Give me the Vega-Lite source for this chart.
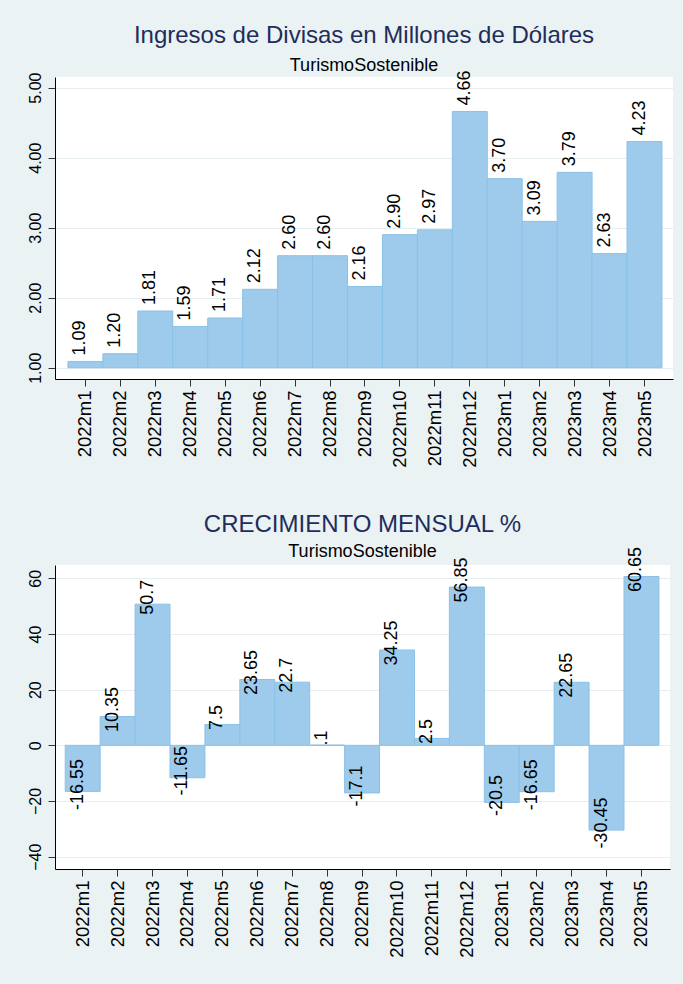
{
  "$schema": "https://vega.github.io/schema/vega-lite/v6.json",
  "background": "#eaf2f3",
  "padding": {"left": 0, "top": 24, "right": 10, "bottom": 30},
  "config": {
    "view": {"stroke": null, "fill": "white"},
    "font": "Liberation Sans",
    "axis": {"labelColor": "#000", "domainColor": "#000", "tickColor": "#333", "titleColor": "#000"}
  },
  "spacing": 44,
  "vconcat": [
    {
      "width": 618,
      "height": 302,
      "title": {
        "text": "Ingresos de Divisas en Millones de Dólares",
        "subtitle": "TurismoSostenible",
        "fontSize": 24,
        "fontWeight": "normal",
        "color": "#1f2d5c",
        "subtitleFontSize": 18,
        "subtitleColor": "#000",
        "subtitlePadding": 9,
        "anchor": "middle",
        "frame": "group",
        "offset": 2,
        "dy": 7
      },
      "data": {
        "values": [
          {"mes": "2022m1", "valor": 1.09},
          {"mes": "2022m2", "valor": 1.20},
          {"mes": "2022m3", "valor": 1.81},
          {"mes": "2022m4", "valor": 1.59},
          {"mes": "2022m5", "valor": 1.71},
          {"mes": "2022m6", "valor": 2.12},
          {"mes": "2022m7", "valor": 2.60},
          {"mes": "2022m8", "valor": 2.60},
          {"mes": "2022m9", "valor": 2.16},
          {"mes": "2022m10", "valor": 2.90},
          {"mes": "2022m11", "valor": 2.97},
          {"mes": "2022m12", "valor": 4.66},
          {"mes": "2023m1", "valor": 3.70},
          {"mes": "2023m2", "valor": 3.09},
          {"mes": "2023m3", "valor": 3.79},
          {"mes": "2023m4", "valor": 2.63},
          {"mes": "2023m5", "valor": 4.23}
        ]
      },
      "encoding": {
        "x": {
          "field": "mes", "type": "ordinal", "sort": null,
          "scale": {"paddingInner": 0, "paddingOuter": 0.343, "align": 0.54},
          "axis": {"title": null, "labelAngle": 270, "labelAlign": "right", "labelBaseline": "middle", "labelFontSize": 18.5, "tickSize": 7, "labelPadding": 4, "grid": false}
        }
      },
      "layer": [
        {
          "mark": {"type": "bar", "fill": "#9ecbeb", "stroke": "#8ac1e8", "strokeWidth": 1},
          "encoding": {
            "y": {
              "field": "valor", "type": "quantitative",
              "scale": {"domain": [0.839, 5.152], "nice": false, "zero": false},
              "axis": {"title": null, "values": [1, 2, 3, 4, 5], "format": ".2f", "labelAngle": 270, "labelAlign": "center", "labelBaseline": "alphabetic", "labelFontSize": 16, "tickSize": 7, "labelPadding": 8, "grid": true, "gridColor": "#e6eef0", "minExtent": 55, "maxExtent": 55}
            },
            "y2": {"datum": 1}
          }
        },
        {
          "mark": {"type": "text", "angle": 270, "align": "left", "baseline": "alphabetic", "dx": 6, "fontSize": 18, "color": "#000"},
          "encoding": {
            "y": {"field": "valor", "type": "quantitative"},
            "text": {"field": "valor", "type": "quantitative", "format": ".2f"}
          }
        }
      ]
    },
    {
      "width": 615,
      "height": 304,
      "title": {
        "text": "CRECIMIENTO MENSUAL %",
        "subtitle": "TurismoSostenible",
        "fontSize": 24,
        "fontWeight": "normal",
        "color": "#1f2d5c",
        "subtitleFontSize": 18,
        "subtitleColor": "#000",
        "subtitlePadding": 6,
        "anchor": "middle",
        "frame": "group",
        "offset": 2,
        "dy": 16
      },
      "data": {
        "values": [
          {"mes": "2022m1", "valor": -16.55, "etiqueta": "-16.55"},
          {"mes": "2022m2", "valor": 10.35, "etiqueta": "10.35"},
          {"mes": "2022m3", "valor": 50.7, "etiqueta": "50.7"},
          {"mes": "2022m4", "valor": -11.65, "etiqueta": "-11.65"},
          {"mes": "2022m5", "valor": 7.5, "etiqueta": "7.5"},
          {"mes": "2022m6", "valor": 23.65, "etiqueta": "23.65"},
          {"mes": "2022m7", "valor": 22.7, "etiqueta": "22.7"},
          {"mes": "2022m8", "valor": 0.1, "etiqueta": ".1"},
          {"mes": "2022m9", "valor": -17.1, "etiqueta": "-17.1"},
          {"mes": "2022m10", "valor": 34.25, "etiqueta": "34.25"},
          {"mes": "2022m11", "valor": 2.5, "etiqueta": "2.5"},
          {"mes": "2022m12", "valor": 56.85, "etiqueta": "56.85"},
          {"mes": "2023m1", "valor": -20.5, "etiqueta": "-20.5"},
          {"mes": "2023m2", "valor": -16.65, "etiqueta": "-16.65"},
          {"mes": "2023m3", "valor": 22.65, "etiqueta": "22.65"},
          {"mes": "2023m4", "valor": -30.45, "etiqueta": "-30.45"},
          {"mes": "2023m5", "valor": 60.65, "etiqueta": "60.65"}
        ]
      },
      "encoding": {
        "x": {
          "field": "mes", "type": "ordinal", "sort": null,
          "scale": {"paddingInner": 0, "paddingOuter": 0.305, "align": 0.48},
          "axis": {"title": null, "labelAngle": 270, "labelAlign": "right", "labelBaseline": "middle", "labelFontSize": 18.5, "tickSize": 7, "labelPadding": 4, "grid": false}
        }
      },
      "layer": [
        {
          "mark": {"type": "bar", "fill": "#9ecbeb", "stroke": "#8ac1e8", "strokeWidth": 1},
          "encoding": {
            "y": {
              "field": "valor", "type": "quantitative",
              "scale": {"domain": [-44.42, 64.78], "nice": false, "zero": false},
              "axis": {"title": null, "values": [-40, -20, 0, 20, 40, 60], "format": "d", "labelAngle": 270, "labelAlign": "center", "labelBaseline": "alphabetic", "labelFontSize": 16, "tickSize": 7, "labelPadding": 8, "grid": true, "gridColor": "#e6eef0", "minExtent": 55, "maxExtent": 55}
            },
            "y2": {"datum": 0}
          }
        },
        {
          "mark": {"type": "text", "angle": 270, "align": "center", "baseline": "alphabetic", "dx": 7, "fontSize": 18, "color": "#000"},
          "encoding": {
            "y": {"field": "valor", "type": "quantitative"},
            "text": {"field": "etiqueta", "type": "nominal"}
          }
        }
      ]
    }
  ]
}
